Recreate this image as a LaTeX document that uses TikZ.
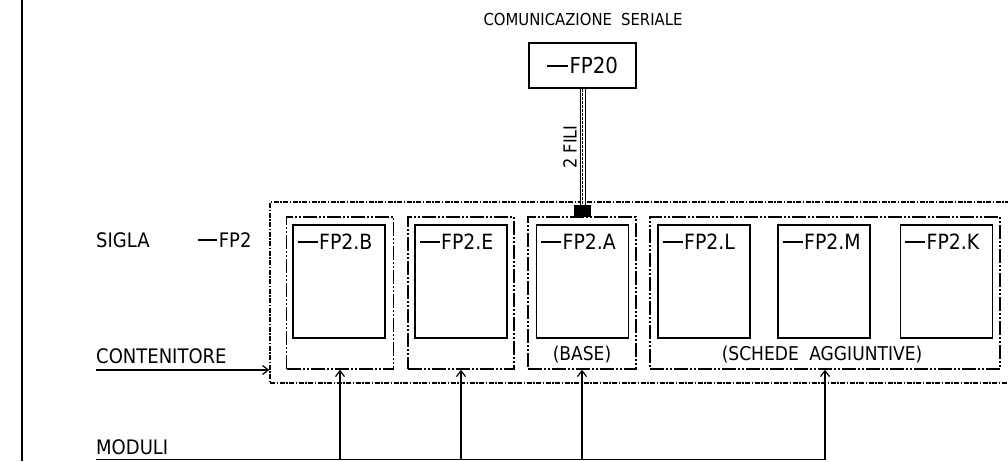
\documentclass[tikz,border=0pt]{standalone}
\usepackage{fontspec}
\setmainfont{DejaVu Sans}[FakeStretch=0.9]
\usetikzlibrary{arrows.meta}
\newcommand{\sigdash}{\rule[0.3em]{0.95em}{0.085em}\hspace{0.08em}}

\begin{document}
\begin{tikzpicture}[x=1pt, y=-1pt,
    txt/.style={inner sep=0pt, font=\fontsize{20}{22}\selectfont},
    note/.style={inner sep=0pt, font=\fontsize{19}{21}\selectfont},
    card/.style={rectangle, draw, line width=1.3pt, minimum width=92pt, minimum height=113pt, inner sep=0pt,
        label={[anchor=north west, inner sep=0pt, xshift=5pt, yshift=-9pt, font=\fontsize{21}{23}\selectfont]north west:\sigdash #1}},
    slot/.style={rectangle, draw, line width=1.2pt, minimum height=152pt, inner sep=0pt,
        dash pattern=on 14pt off 2pt on 2pt off 2pt on 2pt off 2pt},
    rack/.style={rectangle, draw, line width=1.1pt, inner sep=0pt,
        dash pattern=on 5pt off 1.5pt on 1.5pt off 1.5pt},
    arr/.style={-{Straight Barb[length=6pt, width=9pt]}, line width=1.2pt},
    wire/.style={line width=1.2pt},
    cable/.style={double, double distance=4pt, line width=1pt},
]
\useasboundingbox (0,0) rectangle (1008,461);

% Frame border
\draw[wire] (22,0) -- (22,461);

% Serial communication
\node[note, font=\fontsize{16.5}{18}\selectfont, anchor=base] (TIT) at (583,25) {COMUNICAZIONE\hspace{0.55em}SERIALE};
\node[rectangle, draw, line width=1.3pt, minimum width=107pt, minimum height=45pt,
    font=\fontsize{22}{24}\selectfont] (FP20) at (582.5,65.5) {\sigdash FP20};

% Container and slots
\node[rack, minimum width=745pt, minimum height=181pt] (CNT) at (642.5,292.5) {};
\node[slot, minimum width=107pt] (G1) at (340,293) {};
\node[slot, minimum width=106pt] (G2) at (461,293) {};
\node[slot, minimum width=108pt] (G3) at (582,293) {};
\node[slot, minimum width=350pt] (G4) at (825,293) {};

% Modules
\node[card=FP2.B] (B) at (339,281.5) {};
\node[card=FP2.E] (E) at (461,281.5) {};
\node[card=FP2.A] (A) at (582.5,281.5) {};
\node[card=FP2.L] (L) at (704,281.5) {};
\node[card=FP2.M] (M) at (824,281.5) {};
\node[card=FP2.K] (K) at (946.5,281.5) {};

\node[note, anchor=base] (BAS) at (582,360) {(BASE)};
\node[note, anchor=base] (AGG) at (822,360) {(SCHEDE\hspace{0.55em}AGGIUNTIVE)};

% Bus terminal and 2-wire cable
\node[fill, minimum width=17pt, minimum height=12pt, inner sep=0pt] (TRM) at (582.5,211) {};
\draw[cable] (FP20.south) -- (TRM.north);
\draw[line width=0.6pt, dash pattern=on 3pt off 1pt] (FP20.south) -- (TRM.north);
\node[note, font=\fontsize{18}{20}\selectfont, rotate=90] (FILI) at (570,147) {2 FILI};

% Left captions
\node[txt, anchor=base west] (SIG) at (96,247) {SIGLA};
\node[txt, anchor=base west] (TAG) at (198,247) {\sigdash FP2};
\node[txt, anchor=base west] (CON) at (96,363) {CONTENITORE};
\coordinate (CONL) at (96,370);
\draw[arr] (CONL) -- (CNT.west |- CONL);

\node[txt, anchor=base west] (MOD) at (96,454) {MODULI};
\coordinate (MODL) at (96,459.5);
\draw[wire] (MODL) -- (G4.south |- MODL);
\foreach \g in {G1,G2,G3,G4}
    \draw[arr] (\g.south |- MODL) -- (\g.south);
\end{tikzpicture}
\end{document}
